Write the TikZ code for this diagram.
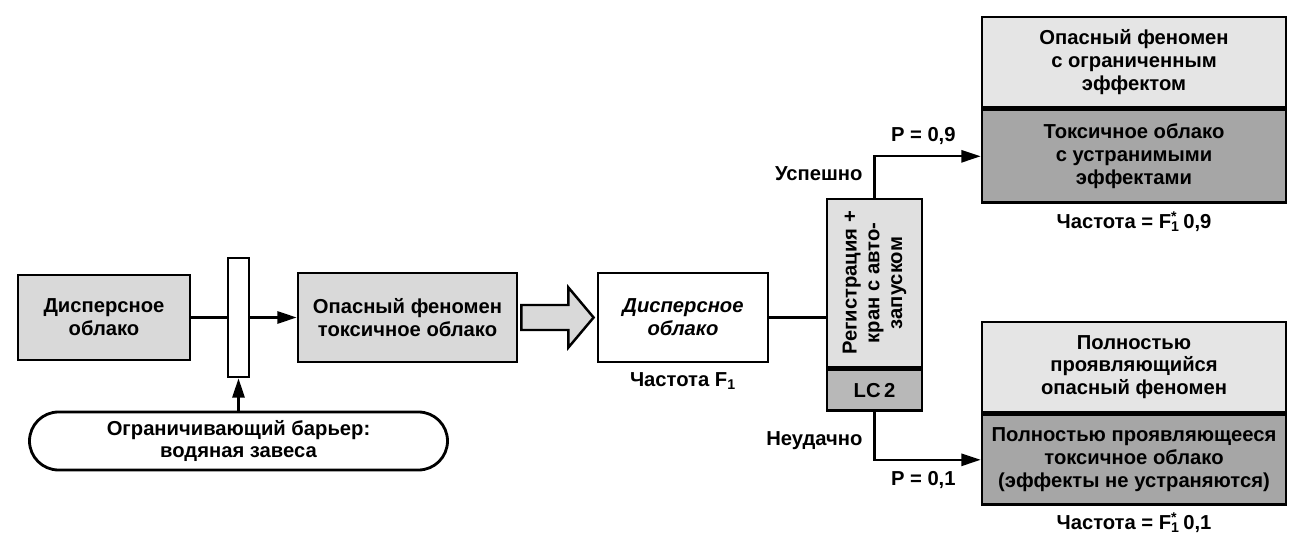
\documentclass[tikz,border=0pt]{standalone}
\usepackage{fontspec}
\setmainfont{Liberation Sans}
\usetikzlibrary{arrows.meta, positioning, calc}

\newcommand{\fone}{F\textsubscript{1}}
\newcommand{\fonestar}{F\rlap{\textsuperscript{*}}\textsubscript{1}}

\begin{document}
\begin{tikzpicture}[
  font=\fontsize{11.5}{13}\selectfont\bfseries,
  blk/.style={
    draw=black, line width=1.6pt, fill=black!15,
    align=center, inner sep=2pt
  },
  part/.style={blk, minimum width=6.08cm, minimum height=1.8cm},
  wire/.style={line width=1.2pt},
  arr/.style={wire, -{Triangle[length=11pt, width=7pt]}},
  lbl/.style={inner sep=1pt}
]
  \useasboundingbox (0,0) rectangle (25.78,-10.78);

  % left chain
  \node[blk, minimum width=3.44cm, minimum height=1.7cm] (cloud) at (2.08,-6.35) {Дисперсное\\облако};
  \node[blk, fill=white, minimum width=0.42cm, minimum height=2.38cm, inner sep=0pt] (barrier) at (4.77,-6.35) {};
  \node[blk, minimum width=4.38cm, minimum height=1.78cm] (toxic) at (8.15,-6.35) {Опасный феномен\\токсичное облако};
  \node[blk, fill=white, rounded corners=0.58cm, minimum width=8.36cm, minimum height=1.16cm] (screen) at (4.77,-8.82) {Ограничивающий барьер:\\водяная завеса};
  \node[blk, fill=white, minimum width=3.4cm, minimum height=1.78cm, font=\fontsize{11.5}{13}\selectfont\bfseries\itshape] (cloud2) at (13.66,-6.35) {Дисперсное\\облако};
  \node[lbl, below=0.14cm of cloud2] (freq) {Частота \fone};

  % LC2 block
  \node[blk, fill=black!12, minimum width=3.36cm, minimum height=1.9cm, rotate=90] (reg) at (17.49,-5.66) {Регистрация +\\кран с авто-\\запуском};
  \node[blk, fill=black!28, minimum width=1.9cm, minimum height=0.82cm, anchor=north] (lc) at (reg.west) {LC\,2};

  % outcomes
  \node[part, fill=black!10] (lim) at (22.68,-1.24) {Опасный феномен\\с ограниченным\\эффектом};
  \node[part, fill=black!35, minimum height=1.86cm, below=0pt of lim] (limtox) {Токсичное облако\\с устранимыми\\эффектами};
  \node[lbl, below=0.1cm of limtox] (freqA) {Частота = \fonestar\,0,9};
  \node[part, fill=black!10] (full) at (22.68,-7.34) {Полностью\\проявляющийся\\опасный феномен};
  \node[part, fill=black!35, below=0pt of full] (fulltox) {Полностью проявляющееся\\токсичное облако\\(эффекты не устраняются)};
  \node[lbl, below=0.08cm of fulltox] (freqB) {Частота = \fonestar\,0,1};

  % connectors
  \draw[wire] (cloud) -- (barrier);
  \draw[arr] (barrier) -- (toxic);
  \draw[arr] (screen) -- (barrier);
  \draw[blk, line width=1.4pt] ($(toxic.east)+(0.06,0.25)$) -- ++(0.94,0) -- ++(0,0.35)
    -- ($(cloud2.west)+(-0.06,0)$) -- ($(toxic.east)+(1.0,-0.6)$) -- ++(0,0.35) -- ++(-0.94,0) -- cycle;
  \draw[wire] (cloud2.east) -- (cloud2.east -| reg.north);
  \draw[arr] (reg.east) |- (limtox.west) node[lbl, pos=0.73, above=5pt] (pok) {P = 0,9};
  \draw[arr] (lc.south) |- (fulltox.west) node[lbl, pos=0.73, below=5pt] (pfail) {P = 0,1};
  \node[lbl, above left=0.3cm and 0.2cm of reg.east] (ok) {Успешно};
  \node[lbl, below left=0.35cm and 0.2cm of lc.south] (fail) {Неудачно};
\end{tikzpicture}
\end{document}
